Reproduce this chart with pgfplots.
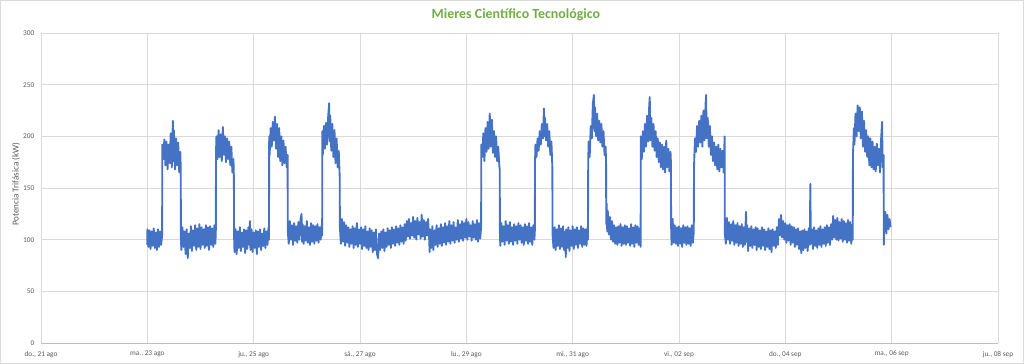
\documentclass[border=0pt]{standalone}
\usepackage{pgfplots}
\pgfplotsset{compat=1.18}
\usepackage{pgfplotstable}
\usepackage{fontspec}
\setmainfont{Carlito}
\definecolor{lineblue}{HTML}{4472C4}
\definecolor{titlegreen}{HTML}{70AD47}
\definecolor{txtgray}{HTML}{595959}
\definecolor{gridgray}{HTML}{D9D9D9}
\definecolor{axisgray}{HTML}{BFBFBF}
\definecolor{bordergray}{HTML}{D9D9D9}

\pgfplotstableread{
x y
2.000 95
2.002 110
2.02 93
2.04 109
2.06 91
2.08 108
2.10 94
2.12 111
2.14 92
2.16 107
2.18 90
2.20 110
2.22 93
2.24 108
2.26 95
2.278 104
2.282 192
2.30 178
2.32 197
2.34 172
2.36 195
2.38 168
2.40 192
2.42 174
2.44 203
2.46 170
2.48 215
2.49 176
2.50 206
2.52 168
2.54 198
2.56 172
2.58 194
2.60 165
2.62 185
2.628 170
2.632 100
2.64 90
2.66 112
2.68 93
2.70 108
2.72 86
2.74 110
2.76 82
2.78 106
2.80 92
2.82 113
2.84 89
2.86 109
2.88 94
2.90 114
2.92 90
2.94 111
2.96 93
2.98 115
3.00 91
3.02 112
3.04 95
3.06 110
3.08 92
3.10 114
3.12 94
3.14 112
3.16 90
3.18 113
3.20 95
3.22 111
3.24 93
3.26 114
3.28 96
3.288 108
3.292 185
3.30 200
3.32 178
3.34 206
3.36 180
3.38 202
3.40 176
3.42 209
3.44 182
3.46 200
3.48 175
3.50 198
3.52 178
3.54 195
3.56 172
3.58 190
3.60 165
3.62 178
3.628 160
3.632 103
3.64 88
3.66 110
3.68 86
3.70 108
3.72 92
3.74 112
3.76 89
3.78 107
3.80 93
3.82 110
3.84 87
3.86 109
3.88 91
3.90 112
3.92 95
3.93 118
3.94 90
3.96 110
3.98 88
4.00 107
4.02 92
4.04 109
4.06 86
4.08 108
4.10 93
4.12 110
4.14 90
4.16 106
4.18 94
4.20 111
4.22 92
4.24 108
4.26 95
4.28 112
4.288 100
4.292 200
4.30 182
4.32 208
4.34 190
4.36 214
4.38 196
4.40 219
4.42 188
4.44 212
4.46 180
4.48 208
4.50 176
4.52 200
4.54 172
4.56 196
4.58 174
4.60 190
4.62 170
4.638 182
4.642 108
4.66 96
4.68 118
4.70 100
4.72 114
4.74 95
4.76 116
4.78 99
4.80 113
4.82 97
4.84 117
4.86 100
4.88 119
4.90 125
4.91 98
4.92 115
4.94 96
4.96 113
4.98 99
5.00 118
5.02 97
5.04 112
5.06 95
5.08 116
5.10 98
5.12 114
5.14 96
5.16 113
5.18 99
5.20 115
5.22 97
5.24 112
5.26 100
5.28 114
5.288 104
5.292 205
5.30 182
5.32 210
5.34 188
5.36 213
5.38 192
5.40 218
5.42 232
5.43 195
5.44 220
5.46 186
5.48 212
5.50 180
5.52 206
5.54 174
5.56 198
5.58 170
5.60 186
5.618 161
5.622 112
5.64 96
5.66 120
5.68 98
5.70 117
5.72 94
5.74 114
5.76 97
5.78 112
5.80 93
5.82 110
5.84 96
5.86 113
5.88 92
5.90 111
5.92 95
5.94 116
5.96 93
5.98 110
6.00 96
6.02 112
6.04 91
6.06 110
6.08 94
6.10 113
6.12 92
6.14 108
6.16 90
6.18 111
6.20 93
6.22 109
6.24 88
6.26 107
6.28 90
6.30 110
6.32 86
6.34 82
6.36 106
6.38 90
6.40 108
6.42 92
6.44 110
6.46 89
6.48 107
6.50 93
6.52 111
6.54 95
6.56 109
6.58 92
6.60 112
6.62 96
6.64 110
6.66 94
6.68 113
6.70 97
6.72 111
6.74 95
6.76 114
6.78 98
6.80 112
6.82 96
6.84 115
6.86 99
6.88 118
6.90 103
6.92 120
6.94 101
6.96 116
6.98 104
7.00 122
7.02 102
7.04 118
7.06 100
7.08 121
7.10 105
7.12 117
7.14 101
7.16 124
7.18 103
7.20 119
7.22 100
7.24 117
7.26 104
7.28 120
7.30 102
7.31 88
7.32 110
7.34 92
7.36 113
7.38 90
7.40 109
7.42 95
7.44 114
7.46 93
7.48 111
7.50 96
7.52 115
7.54 94
7.56 112
7.58 97
7.60 116
7.62 95
7.64 113
7.66 98
7.68 118
7.70 96
7.72 114
7.74 99
7.76 117
7.78 97
7.80 112
7.82 100
7.84 119
7.86 98
7.88 115
7.90 101
7.92 118
7.94 99
7.96 116
7.98 102
8.00 120
8.02 100
8.04 117
8.06 103
8.08 114
8.10 99
8.12 118
8.14 102
8.16 115
8.18 100
8.20 119
8.22 98
8.24 116
8.26 101
8.278 112
8.282 192
8.30 180
8.32 203
8.34 176
8.36 208
8.38 185
8.40 214
8.42 188
8.44 222
8.46 190
8.48 216
8.50 184
8.52 205
8.54 180
8.56 200
8.58 176
8.60 190
8.62 172
8.628 168
8.632 104
8.64 94
8.66 116
8.68 98
8.70 113
8.72 95
8.74 118
8.76 99
8.78 114
8.80 96
8.82 117
8.84 98
8.86 112
8.88 95
8.90 115
8.92 99
8.94 113
8.96 96
8.98 116
9.00 100
9.02 114
9.04 97
9.06 112
9.08 95
9.10 115
9.12 99
9.14 113
9.16 96
9.18 116
9.20 98
9.22 112
9.24 95
9.26 114
9.28 100
9.288 108
9.292 175
9.30 192
9.32 180
9.34 198
9.36 186
9.38 205
9.40 192
9.42 212
9.44 198
9.46 227
9.47 200
9.48 218
9.50 196
9.52 212
9.54 190
9.56 205
9.58 182
9.60 195
9.618 170
9.622 105
9.64 92
9.66 112
9.68 90
9.70 110
9.72 94
9.74 114
9.76 91
9.78 111
9.80 93
9.82 113
9.84 90
9.86 108
9.87 83
9.88 110
9.90 92
9.92 112
9.94 89
9.96 109
9.98 94
10.00 113
10.02 91
10.04 110
10.06 95
10.08 112
10.10 92
10.12 109
10.14 96
10.16 113
10.18 93
10.20 111
10.22 95
10.24 110
10.26 94
10.28 112
10.288 100
10.292 172
10.30 195
10.32 180
10.34 210
10.36 198
10.38 232
10.40 240
10.41 205
10.42 228
10.44 200
10.46 222
10.48 196
10.50 215
10.52 194
10.54 212
10.56 190
10.58 205
10.60 182
10.62 190
10.628 175
10.632 115
10.64 135
10.65 108
10.66 128
10.68 105
10.70 122
10.72 100
10.74 118
10.76 98
10.78 114
10.80 96
10.82 112
10.84 95
10.86 113
10.88 97
10.90 115
10.92 94
10.94 112
10.96 96
10.98 114
11.00 95
11.02 113
11.04 97
11.06 111
11.08 94
11.10 115
11.12 96
11.14 112
11.16 93
11.18 114
11.20 97
11.22 113
11.24 95
11.26 111
11.278 93
11.282 200
11.30 178
11.32 205
11.34 185
11.36 212
11.38 190
11.40 220
11.42 195
11.44 230
11.45 238
11.46 196
11.48 218
11.50 190
11.52 212
11.54 186
11.56 205
11.58 180
11.60 198
11.62 175
11.64 194
11.66 170
11.68 192
11.70 168
11.72 190
11.74 165
11.76 196
11.78 170
11.80 188
11.82 166
11.84 185
11.848 175
11.852 112
11.86 95
11.88 120
11.90 97
11.92 114
11.94 96
11.96 112
11.98 94
12.00 113
12.02 96
12.04 111
12.06 93
12.08 114
12.10 97
12.12 112
12.14 95
12.16 113
12.18 96
12.20 111
12.22 94
12.24 114
12.26 97
12.278 108
12.282 170
12.30 198
12.32 185
12.34 210
12.36 190
12.38 215
12.40 194
12.42 220
12.44 190
12.46 225
12.48 196
12.50 232
12.51 240
12.52 198
12.54 218
12.56 190
12.58 210
12.60 182
12.62 200
12.64 176
12.66 194
12.68 172
12.70 190
12.72 168
12.74 192
12.76 166
12.78 188
12.80 170
12.82 186
12.84 165
12.858 200
12.862 106
12.88 96
12.90 121
12.92 100
12.94 117
12.96 96
12.98 115
13.00 99
13.02 118
13.04 95
13.06 114
13.08 97
13.10 116
13.12 94
13.14 113
13.16 96
13.18 115
13.20 93
13.22 112
13.24 95
13.26 127
13.27 98
13.28 114
13.30 89
13.32 111
13.34 94
13.36 113
13.38 92
13.40 110
13.42 95
13.44 112
13.46 90
13.48 111
13.50 93
13.52 109
13.54 91
13.56 112
13.58 94
13.60 110
13.62 90
13.64 108
13.66 93
13.68 111
13.70 91
13.72 109
13.74 88
13.76 110
13.78 94
13.80 108
13.82 92
13.84 112
13.86 95
13.88 120
13.90 104
13.92 124
13.94 102
13.96 118
13.98 100
14.00 116
14.02 97
14.04 114
14.06 99
14.08 115
14.10 95
14.12 113
14.14 97
14.16 112
14.18 93
14.20 110
14.22 95
14.24 111
14.26 91
14.28 108
14.30 87
14.32 109
14.34 90
14.36 110
14.38 92
14.40 108
14.42 89
14.44 111
14.46 95
14.47 154
14.48 96
14.50 110
14.52 91
14.54 112
14.56 94
14.58 109
14.60 92
14.62 111
14.64 95
14.66 113
14.68 93
14.70 110
14.72 96
14.74 112
14.76 94
14.78 114
14.80 97
14.82 112
14.84 95
14.86 115
14.88 100
14.90 123
14.92 102
14.94 119
14.96 100
14.98 121
15.00 99
15.02 117
15.04 101
15.06 120
15.08 98
15.10 118
15.12 100
15.14 116
15.16 97
15.18 119
15.20 99
15.22 117
15.24 96
15.26 115
15.268 100
15.272 182
15.29 208
15.30 192
15.32 222
15.34 200
15.36 230
15.38 205
15.40 228
15.42 198
15.44 224
15.46 190
15.48 215
15.50 185
15.52 206
15.54 180
15.56 200
15.58 172
15.60 198
15.62 170
15.64 195
15.66 168
15.68 190
15.70 166
15.72 193
15.74 172
15.76 188
15.78 165
15.80 196
15.82 214
15.83 170
15.848 182
15.852 95
15.86 122
15.87 108
15.88 127
15.90 106
15.92 124
15.94 110
15.96 120
15.98 112
}\power

\begin{document}
\begin{tikzpicture}
\useasboundingbox (-30.75bp,-15.75bp) rectangle (737.25bp,257.25bp);
\draw[bordergray, line width=0.75bp] (-30.25bp,-15.25bp) rectangle (736.75bp,256.75bp);
\begin{axis}[
  scale only axis,
  width=717.75bp, height=232.5bp,
  xmin=0, xmax=18, ymin=0, ymax=300,
  xtick={0,2,...,18},
  xticklabels={{do., 21 ago},{ma., 23 ago},{ju., 25 ago},{sá., 27 ago},{lu., 29 ago},{mi., 31 ago},{vi., 02 sep},{do., 04 sep},{ma., 06 sep},{ju., 08 sep}},
  ytick={0,50,...,300},
  /pgf/number format/assume math mode=true,
  axis x line=bottom, axis y line=left,
  axis line style={-},
  x axis line style={draw=axisgray, line width=0.75bp},
  y axis line style={draw=none},
  major tick length=0pt,
  grid=major,
  major grid style={draw=gridgray, line width=0.75bp},
  tick label style={font=\fontsize{5.5}{6.5}\selectfont, text=txtgray},
  xticklabel style={yshift=-2.5bp},
  yticklabel style={xshift=-1.5bp},
  ylabel={Potencia Trifásica (kW)},
  ylabel style={at={(axis description cs:-0.0261,0.512)}, anchor=center, rotate=0, font=\fontsize{6.8}{8}\selectfont, text=txtgray},
  clip=false,
]
\addplot[lineblue, line width=1.4bp, line join=round, mark=none] table[x=x,y=y] {\power};
\node[anchor=center, font=\bfseries\fontsize{10.5}{12}\selectfont, text=titlegreen] at (rel axis cs:0.4963,1.058) {Mieres Científico Tecnológico};
\end{axis}
\end{tikzpicture}
\end{document}
